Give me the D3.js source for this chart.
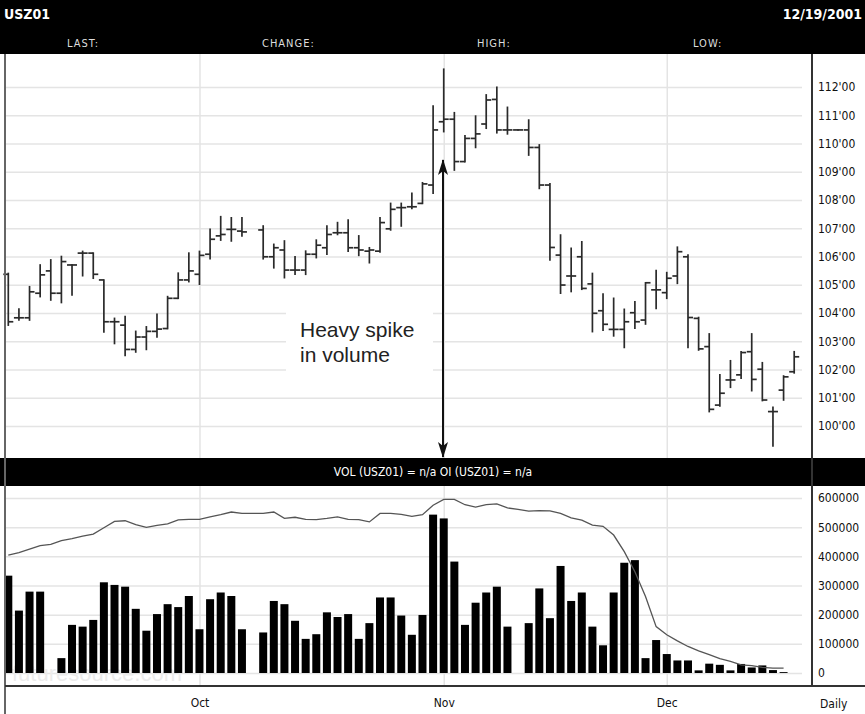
<!DOCTYPE html>
<meta charset="utf-8">
<script src="https://d3js.org/d3.v7.min.js"></script>
<style>
    body { margin: 0; background: #fff; }
    svg text { font-family: "Liberation Sans Narrow", "Arial Narrow", "DejaVu Sans Condensed", sans-serif; }
    .grid line { stroke: #e4e4e4; stroke-width: 1.5px; }
    .grid path { display: none; }
    .axis path { display: none; }
    .axis line { display: none; }
    .axis text { font-size: 12px; fill: #111; }
</style>
<div id="my_dataviz"></div>
<script>
    // trading day slots, Sep 5 .. Dec 19 2001 (null = no session)
    var openP = [105.37, 103.83, 103.83, 104.70, 105.49, 104.70, 105.70, 106.12, 106.12, 105.17,
        103.69, 103.57, 102.71, 103.15, 103.35, 103.45, 104.52, 105.17, 105.37, 106.08,
        106.73, 106.96, 106.90, null, 106.94, 105.99, 106.23, 105.52, 105.52, 106.08,
        106.31, 106.84, 106.84, 106.31, 106.19, 106.19, 106.98, 107.73, 107.76, 107.88,
        108.53, 110.77, 110.86, 109.36, 110.18, 110.69, 111.56, 110.48, 110.48, 110.48,
        109.86, 108.53, 106.05, 105.31, 105.99, 105.03, 104.08, 103.42, 103.42, 104.01,
        103.75, 104.82, 104.72, 105.31, 105.99, 103.81, 102.81, 100.74, 101.63, 101.81,
        102.63, 102.01, 100.51, 101.27, 101.92];
    var highP = [105.40, 104.14, 104.93, 105.70, 105.88, 106.00, 105.70, 106.18, 106.12, 105.17,
        103.81, 103.87, 103.35, 103.51, 103.95, 104.58, 105.41, 106.12, 106.18, 106.96,
        107.41, 107.37, 107.37, null, 107.08, 106.43, 106.55, 105.99, 106.19, 106.58,
        107.08, 107.20, 107.29, 106.73, 106.31, 107.37, 107.88, 107.88, 108.24, 108.61,
        111.33, 112.63, 111.09, 110.27, 110.97, 111.72, 111.99, 111.28, 110.48, 110.83,
        109.95, 108.57, 106.76, 106.29, 106.52, 105.40, 104.67, 104.52, 104.13, 104.40,
        105.07, 105.50, 105.43, 106.33, 106.05, 103.84, 103.26, 101.81, 102.31, 102.63,
        103.26, 102.24, 100.66, 101.77, 102.63];
    var lowP = [103.57, 103.75, 103.75, 104.58, 104.46, 104.37, 104.64, 105.32, 105.23, 103.33,
        102.92, 102.50, 102.62, 102.71, 103.15, 103.45, 104.52, 105.11, 105.02, 105.92,
        106.58, 106.55, 106.73, null, 105.92, 105.60, 105.25, 105.37, 105.37, 105.96,
        106.08, 106.78, 106.19, 106.04, 105.78, 106.16, 106.94, 107.08, 107.70, 107.88,
        108.24, 110.42, 109.06, 109.36, 109.86, 110.54, 110.38, 110.34, 110.48, 109.59,
        108.41, 105.88, 104.70, 104.76, 104.84, 103.34, 103.39, 103.19, 102.78, 103.46,
        103.61, 104.16, 104.52, 105.05, 102.78, 102.69, 100.51, 100.71, 101.37, 101.69,
        101.25, 100.90, 99.29, 100.92, 101.88];
    var closeP = [103.69, 103.83, 104.75, 105.35, 104.70, 105.82, 105.70, 106.12, 105.37, 103.69,
        103.69, 102.71, 103.15, 103.35, 103.43, 104.52, 105.17, 105.49, 106.04, 106.61,
        106.78, 106.96, 106.87, null, 105.99, 106.31, 105.52, 105.52, 106.08, 106.40,
        106.78, 106.84, 106.31, 106.23, 106.23, 107.20, 107.67, 107.73, 107.76, 108.57,
        110.48, 110.86, 109.36, 110.18, 110.34, 111.54, 110.48, 110.48, 110.48, 109.86,
        108.53, 106.32, 104.99, 105.31, 104.87, 103.99, 103.60, 103.42, 103.69, 103.69,
        105.07, 104.82, 105.23, 106.17, 103.84, 102.73, 100.59, 101.16, 101.63, 102.60,
        101.65, 100.92, 100.51, 101.74, 102.45];
    var volume = [333700, 214000, 279000, 279000, null, 51000, 165000, 159000, 182000, 311000,
        302000, 296000, 220000, 145000, 202000, 236000, 226000, 264000, 150000, 253000,
        276000, 264000, 150000, null, 139000, 247000, 236000, 179000, 117000, 133000,
        208000, 192000, 202000, 117000, 171000, 259000, 259000, 197000, 131000, 199000,
        543000, 530000, 382000, 165000, 241000, 276000, 296000, 159000, null, 171000,
        290000, 188000, 367000, 247000, 276000, 159000, 95000, 276000, 378000, 387000,
        51000, 113000, 65000, 43000, 43000, 9000, 32000, 28000, 9000, 31000,
        19000, 26000, 10000, 3000];
    var openInt = [404000, 413000, 425000, 437000, 441000, 454000, 461000, 469000, 476000, 498000,
        520000, 522000, 509000, 499000, 506000, 511000, 525000, 527000, 527000, 535000,
        543000, 552000, 547000, 547000, 547000, 552000, 530000, 534000, 527000, 526000,
        530000, 535000, 527000, 526000, 518000, 547000, 547000, 544000, 537000, 543000,
        575000, 595000, 595000, 577000, 569000, 577000, 580000, 566000, 561000, 555000,
        557000, 556000, 547000, 532000, 524000, 507000, 503000, 473000, 416000, 347000,
        262000, 159000, 131000, 110000, 91000, 76000, 63000, 49000, 40000, 28000,
        25000, 19000, 17000, 17000];
    var monthLabels = ["Oct", "Nov", "Dec"];
    var monthSlots = [18, 41, 62];
    var priceTicks = [100, 101, 102, 103, 104, 105, 106, 107, 108, 109, 110, 111, 112];
    var volTicks = [0, 100000, 200000, 300000, 400000, 500000, 600000];

    var W = 865, H = 714;
    var left = 5, right = 812, gridRight = 802;
    var priceTop = 54, priceBottom = 458, volTop = 486, volBottom = 686;

    var svg = d3.select("#my_dataviz")
        .append("svg")
        .attr("width", W)
        .attr("height", H);

    // scales
    var x = d3.scaleLinear().domain([0, 74]).range([8.3, 794.2]);
    var y = d3.scaleLinear().domain([100, 112]).range([426, 87]);
    var yv = d3.scaleLinear().domain([0, 600000]).range([673, 498]);

    // ---------------------------//
    //       HEADER BANDS         //
    // ---------------------------//
    svg.append("rect").attr("x", 0).attr("y", 0).attr("width", W).attr("height", priceTop)
        .style("fill", "#000");
    svg.append("text").attr("x", 4).attr("y", 19).text("USZ01")
        .style("fill", "#fff").style("font-weight", "bold").style("font-size", "14px");
    svg.append("text").attr("x", 862).attr("y", 19).attr("text-anchor", "end").text("12/19/2001")
        .style("fill", "#fff").style("font-weight", "bold").style("font-size", "14px");
    var headLabels = ["LAST:", "CHANGE:", "HIGH:", "LOW:"];
    var headX = [67, 262, 477, 693];
    svg.selectAll("headlab")
        .data(headLabels)
        .enter()
        .append("text")
        .attr("x", function (d, i) { return headX[i] })
        .attr("y", 47)
        .text(function (d) { return d })
        .style("fill", "#ddd")
        .style("font-size", "11px")
        .style("letter-spacing", "1px");

    svg.append("rect").attr("x", 0).attr("y", priceBottom).attr("width", W).attr("height", volTop - priceBottom)
        .style("fill", "#000");
    svg.append("text").attr("x", 433).attr("y", 476).attr("text-anchor", "middle")
        .text("VOL (USZ01) = n/a OI (USZ01) = n/a")
        .style("fill", "#fff").style("font-size", "12px");

    // ---------------------------//
    //       GRIDS                //
    // ---------------------------//
    svg.append("g")
        .attr("class", "grid")
        .attr("transform", "translate(" + left + ",0)")
        .call(d3.axisRight(y).tickValues(priceTicks).tickSize(gridRight - left).tickFormat(""));
    svg.append("g")
        .attr("class", "grid")
        .attr("transform", "translate(" + left + ",0)")
        .call(d3.axisRight(yv).tickValues(volTicks).tickSize(gridRight - left).tickFormat(""));
    svg.append("g")
        .attr("class", "grid")
        .attr("transform", "translate(0," + priceTop + ")")
        .call(d3.axisBottom(x).tickValues(monthSlots).tickSize(priceBottom - priceTop).tickFormat(""));
    svg.append("g")
        .attr("class", "grid")
        .attr("transform", "translate(0," + volTop + ")")
        .call(d3.axisBottom(x).tickValues(monthSlots).tickSize(volBottom - volTop).tickFormat(""));

    // white box behind the note
    svg.append("rect").attr("x", 286).attr("y", 300).attr("width", 147).attr("height", 80)
        .style("fill", "#fff");

    // watermark
    svg.append("text").attr("x", 12).attr("y", 681).text("futuresource.com")
        .style("fill", "#ececec").style("font-size", "22px").style("font-family", "Liberation Sans, sans-serif");

    // ---------------------------//
    //       PRICE BARS           //
    // ---------------------------//
    var days = d3.range(openP.length).filter(function (i) { return openP[i] !== null });
    var bars = svg.append("g").style("stroke", "#2a2a2a").style("stroke-width", 1.7);
    bars.selectAll("hl")
        .data(days)
        .enter()
        .append("line")
        .attr("x1", function (i) { return x(i) })
        .attr("x2", function (i) { return x(i) })
        .attr("y1", function (i) { return y(highP[i]) - 0.8 })
        .attr("y2", function (i) { return y(lowP[i]) + 0.8 });
    bars.selectAll("op")
        .data(days)
        .enter()
        .append("line")
        .attr("x1", function (i) { return x(i) - 5 })
        .attr("x2", function (i) { return x(i) })
        .attr("y1", function (i) { return y(openP[i]) })
        .attr("y2", function (i) { return y(openP[i]) });
    bars.selectAll("cl")
        .data(days)
        .enter()
        .append("line")
        .attr("x1", function (i) { return x(i) })
        .attr("x2", function (i) { return x(i) + 5 })
        .attr("y1", function (i) { return y(closeP[i]) })
        .attr("y2", function (i) { return y(closeP[i]) });

    // ---------------------------//
    //       VOLUME + OI          //
    // ---------------------------//
    var volDays = d3.range(volume.length).filter(function (i) { return volume[i] !== null });
    svg.append("g")
        .selectAll("rect")
        .data(volDays)
        .enter()
        .append("rect")
        .attr("x", function (i) { return x(i) - 4 })
        .attr("width", 8)
        .attr("y", function (i) { return yv(volume[i]) })
        .attr("height", function (i) { return yv(0) - yv(volume[i]) })
        .style("fill", "#000");

    var oiLine = d3.line()
        .x(function (i) { return x(i) })
        .y(function (i) { return yv(openInt[i]) });
    svg.append("path")
        .datum(d3.range(openInt.length))
        .attr("d", oiLine)
        .style("fill", "none")
        .style("stroke", "#555")
        .style("stroke-width", 1.3);

    // ---------------------------//
    //       FRAME + AXES         //
    // ---------------------------//
    svg.append("line").attr("x1", left).attr("x2", left).attr("y1", priceTop).attr("y2", H)
        .style("stroke", "#666").style("stroke-width", 2);
    svg.append("line").attr("x1", right).attr("x2", right).attr("y1", priceTop).attr("y2", volBottom)
        .style("stroke", "#333").style("stroke-width", 2);
    svg.append("line").attr("x1", left).attr("x2", W).attr("y1", volBottom).attr("y2", volBottom)
        .style("stroke", "#333").style("stroke-width", 2);

    svg.append("g")
        .attr("class", "axis")
        .attr("transform", "translate(" + right + ",0)")
        .call(d3.axisRight(y).tickValues(priceTicks).tickSize(0).tickPadding(6)
            .tickFormat(function (d) { return d + "'00" }));
    svg.append("g")
        .attr("class", "axis")
        .attr("transform", "translate(" + right + ",0)")
        .call(d3.axisRight(yv).tickValues(volTicks).tickSize(0).tickPadding(6)
            .tickFormat(function (d) { return d }));
    svg.append("g")
        .attr("class", "axis")
        .attr("transform", "translate(0," + volBottom + ")")
        .call(d3.axisBottom(x).tickValues(monthSlots).tickSize(0).tickPadding(12)
            .tickFormat(function (d, i) { return monthLabels[i] }));
    svg.append("text").attr("x", 820).attr("y", 708).text("Daily")
        .style("font-size", "12px").style("fill", "#111");

    // ---------------------------//
    //       ANNOTATION           //
    // ---------------------------//
    var defs = svg.append("defs");
    defs.append("marker")
        .attr("id", "head")
        .attr("viewBox", "0 0 16 10")
        .attr("refX", 15).attr("refY", 5)
        .attr("markerWidth", 8).attr("markerHeight", 5)
        .attr("markerUnits", "strokeWidth")
        .attr("orient", "auto-start-reverse")
        .append("path")
        .attr("d", "M0,0 L16,5 L0,10 L4,5 Z")
        .style("fill", "#111");
    svg.append("line")
        .attr("x1", 443).attr("x2", 443)
        .attr("y1", 160).attr("y2", 457)
        .attr("marker-start", "url(#head)")
        .attr("marker-end", "url(#head)")
        .style("stroke", "#111").style("stroke-width", 2);
    svg.append("text").attr("x", 300).attr("y", 337).text("Heavy spike")
        .style("font-family", "Liberation Sans, Arial, sans-serif").style("font-size", "21px").style("fill", "#222");
    svg.append("text").attr("x", 300).attr("y", 362).text("in volume")
        .style("font-family", "Liberation Sans, Arial, sans-serif").style("font-size", "21px").style("fill", "#222");
</script>
